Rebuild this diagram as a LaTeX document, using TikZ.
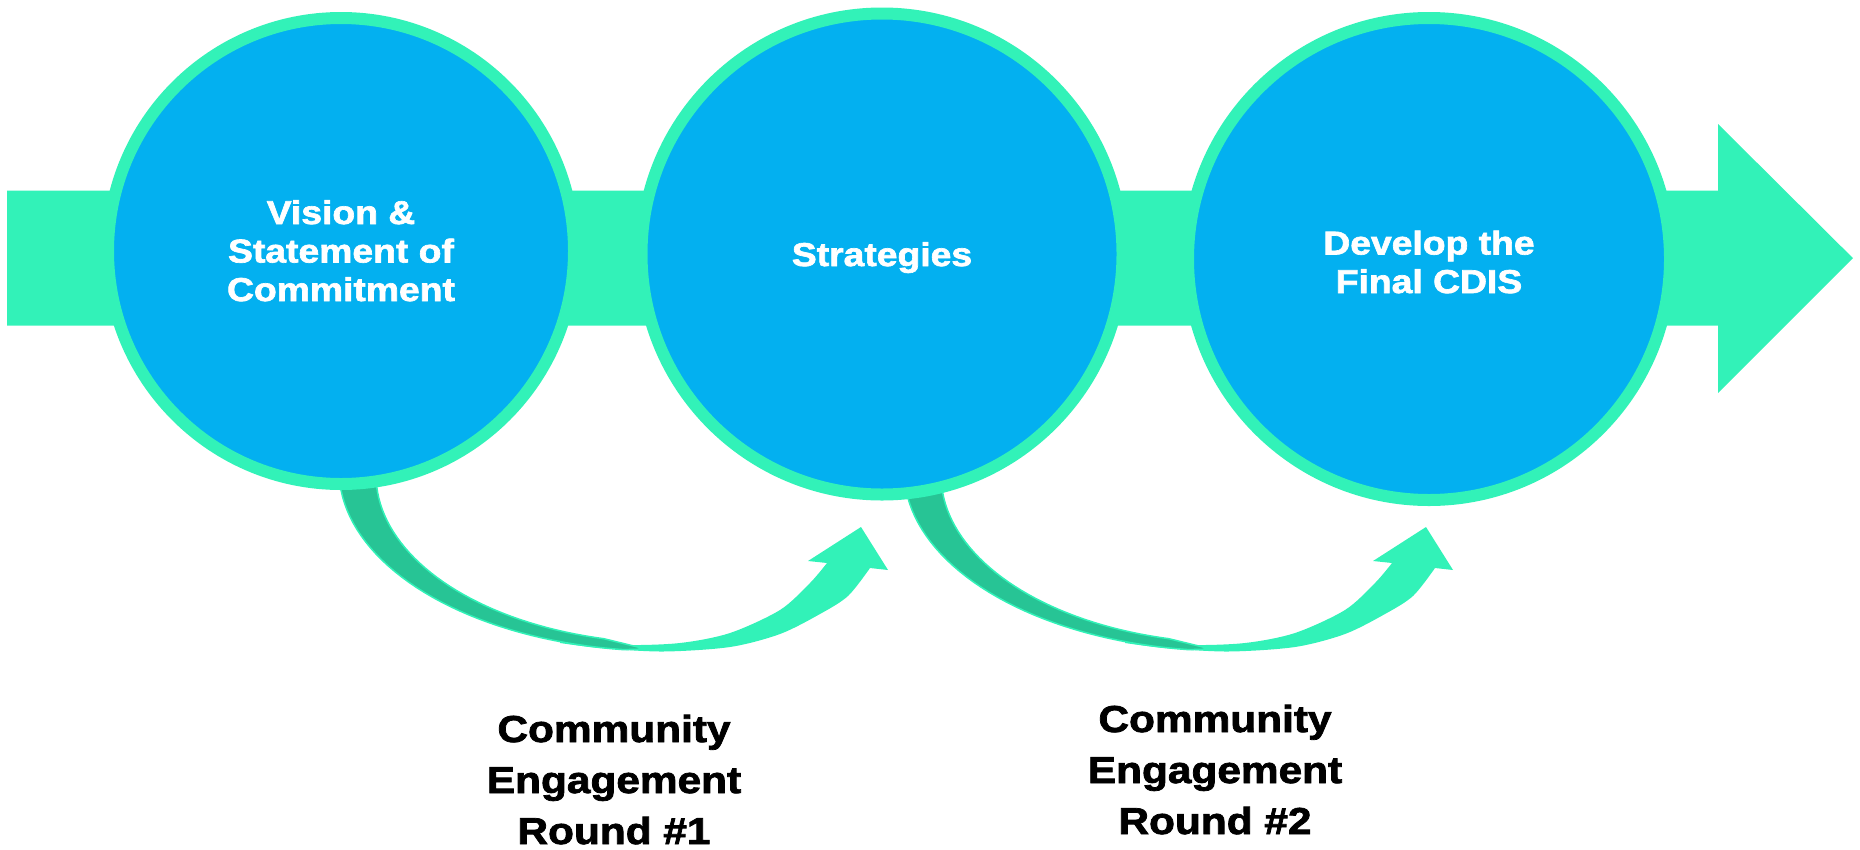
\documentclass[tikz,border=0pt]{standalone}
\usepackage{fontspec}
\setmainfont{Liberation Sans}
\newfontfamily\blk{Liberation Sans}[BoldFeatures={FakeBold=2}, FakeStretch=1.13]
\definecolor{mint}{HTML}{32F2B8}
\definecolor{sky}{HTML}{03B0F0}
\definecolor{ribbon}{HTML}{27C495}
\begin{document}
\begin{tikzpicture}[x=1pt,y=-1pt,
  ring/.style={circle, fill=sky, draw=mint, line width=12pt, inner sep=0pt},
  lbl/.style={text=white, font=\blk\bfseries\fontsize{33}{38.5}\selectfont, align=center, inner sep=0pt, anchor=base},
  captxt/.style={text=black, font=\blk\bfseries\fontsize{37.5}{51}\selectfont, align=center, inner sep=0pt, anchor=base},
  engage/.pic={
    % light shaft with arrowhead
    \fill[mint] plot[smooth] coordinates {(560,643) (600,648) (663,651.5) (730,647) (780,634) (820,614) (848,596) (870,568)}
      -- (888,570) -- (861,527) -- (808,561) -- (827,563)
      -- plot[smooth] coordinates {(827,563) (810,583) (780,610) (730,633) (680,643) (623,645) (560,641)} -- cycle;
    % dark ribbon (back of the curved arrow)
    \filldraw[fill=ribbon, draw=mint, line width=1.5pt]
      plot[domain=0:83, samples=40] ({663-324*cos(\x)},{470+181*sin(\x)})
      -- (646,649)
      -- plot[domain=77:0, samples=40] ({670-294*cos(\x)},{475+168*sin(\x)})
      -- (376,470) -- cycle;
  }]
\useasboundingbox (0,0) rectangle (1860,849);
% main band arrow
\fill[mint] (7,190.7) -- (1718,190.7) -- (1718,124) -- (1853,258.2) -- (1718,393) -- (1718,325.7) -- (7,325.7) -- cycle;
% curved engagement arrows
\pic (a1) at (0,0) {engage};
\pic (a2) at (565,0) {engage};
% circles
\node[ring, minimum size=466pt] (c1) at (341,251) {};
\node[ring, minimum size=481pt] (c2) at (882,254) {};
\node[ring, minimum size=482pt] (c3) at (1429,259) {};
% circle texts
\node[lbl] (t1) at (341,301) {Vision \&\\Statement of\\Commitment};
\node[lbl] (t2) at (882,266) {Strategies};
\node[lbl] (t3) at (1429,293) {Develop the\\Final CDIS};
% captions
\node[captxt] (e1) at (614,844) {Community\\Engagement\\Round \#1};
\node[captxt] (e2) at (1215,834) {Community\\Engagement\\Round \#2};
\end{tikzpicture}
\end{document}
